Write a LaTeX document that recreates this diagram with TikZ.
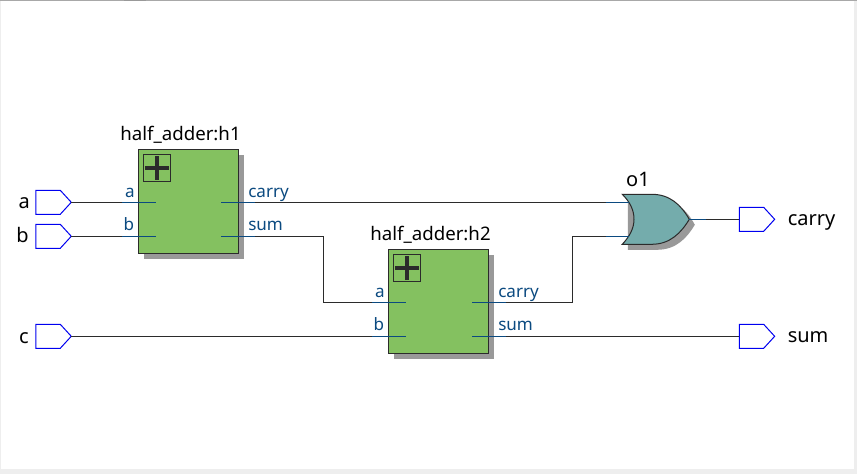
\documentclass[tikz,border=0pt]{standalone}
\usepackage{fontspec}
\setmainfont{Noto Sans}
\usetikzlibrary{shapes.symbols}
\definecolor{wire}{HTML}{2B2B2B}
\definecolor{pinblue}{HTML}{0B4A80}
\definecolor{blockgreen}{HTML}{84C160}
\definecolor{gateteal}{HTML}{74ACAC}
\definecolor{shadowgrey}{HTML}{999999}
\definecolor{portblue}{HTML}{0000F0}
\definecolor{framegrey}{HTML}{EEEEEE}
\tikzset{
  x=0.75pt,y=-0.75pt,
  wireline/.style={draw=wire,line width=0.75pt},
  pinline/.style={draw=pinblue,line width=0.75pt},
  blockbox/.style={draw=wire,fill=blockgreen,line width=0.9pt,minimum width=75pt,minimum height=78pt,inner sep=0pt,outer sep=0pt},
  blockshadow/.style={fill=shadowgrey,draw=none,minimum width=75pt,minimum height=78pt,inner sep=0pt,outer sep=0pt},
  plusbox/.style={draw=wire,line width=0.75pt,minimum width=20.3pt,minimum height=20.3pt,inner sep=0pt,outer sep=0pt},
  portshape/.style={signal,signal to=east,signal pointer angle=95,draw=portblue,fill=white,line width=0.75pt,minimum width=26.5pt,minimum height=18pt,inner sep=0pt,outer sep=0pt},
  biglabel/.style={text=black,font=\fontsize{14}{16}\selectfont,inner sep=0pt},
  portlabel/.style={text=black,font=\fontsize{15}{17}\selectfont,inner sep=0pt},
  pinlabel/.style={text=pinblue,font=\fontsize{12.8}{14}\selectfont,inner sep=0pt},
}
\newcommand{\plusmark}[1]{%
  \draw[wire,line width=3pt] ([xshift=-9pt]#1.center) -- ([xshift=9pt]#1.center);
  \draw[wire,line width=3pt] ([yshift=-9pt]#1.center) -- ([yshift=9pt]#1.center);
}
\begin{document}
\begin{tikzpicture}
\useasboundingbox (0,0) rectangle (857,474);
\fill[white] (0,0) rectangle (857,474);
% window frame
\fill[framegrey] (854.3,0) rectangle (857,474);
\fill[framegrey] (0,469) rectangle (857,474);
\fill[framegrey] (0,0) rectangle (1,469);
\fill[shadowgrey!85] (0,0) rectangle (857,1.5);
\fill[shadowgrey] (124,0) rectangle (146,1.5);
% wire end points
\coordinate (h1aL) at (122,202.3);
\coordinate (h1aR) at (156,202.3);
\coordinate (h1bL) at (122,236.3);
\coordinate (h1bR) at (156,236.3);
\coordinate (h1cL) at (221,202.3);
\coordinate (h1cR) at (255,202.3);
\coordinate (h1sL) at (221,236.3);
\coordinate (h1sR) at (255,236.3);
\coordinate (h2aL) at (372,302.3);
\coordinate (h2aR) at (406,302.3);
\coordinate (h2bL) at (372,336.3);
\coordinate (h2bR) at (406,336.3);
\coordinate (h2cL) at (472,302.3);
\coordinate (h2cR) at (506,302.3);
\coordinate (h2sL) at (472,336.3);
\coordinate (h2sR) at (506,336.3);
\coordinate (o1aL) at (605.7,202.3);
\coordinate (o1aR) at (628.5,202.3);
\coordinate (o1bL) at (605.7,236.3);
\coordinate (o1bR) at (628.5,236.3);
\coordinate (o1yL) at (689.3,219.3);
\coordinate (o1yR) at (705.7,219.3);
% shadows
\node[blockshadow] at (194.2,207) {};
\node[blockshadow] at (443.8,307) {};
\fill[shadowgrey] (627.8,199.8) -- (657.2,199.8) .. controls (676,199.8) and (687,210) .. (694.8,224.8)
  .. controls (687,238) and (676,249.8) .. (657.2,249.8) -- (627.8,249.8) -- cycle;
% blocks
\node[blockbox] (h1) at (188.7,201.4) {};
\node[blockbox] (h2) at (438.3,301.3) {};
\node[plusbox] (p1) at (157.1,168) {};
\node[plusbox] (p2) at (407,268) {};
\plusmark{p1}
\plusmark{p2}
% gate
\path[draw=wire,fill=gateteal,line width=0.75pt] (622.3,194.3) -- (651.7,194.3)
  .. controls (670,194.3) and (681,205) .. (689.3,219.3)
  .. controls (681,233) and (670,244.3) .. (651.7,244.3) -- (622.3,244.3)
  .. controls (630,236) and (634,228) .. (634,219.3)
  .. controls (634,210) and (630,202) .. cycle;
% ports
\node[portshape] (a) at (48.1,202.3) {};
\node[portshape] (b) at (48.1,236.3) {};
\node[portshape] (c) at (48.1,336.3) {};
\node[portshape] (carry) at (751.5,219.3) {};
\node[portshape] (sum) at (751.5,336.3) {};
% wires
\draw[wireline] (a.east) -- (h1aL);
\draw[wireline] (b.east) -- (h1bL);
\draw[wireline] (c.east) -- (h2bL);
\draw[wireline] (h1cR) -- (o1aL);
\draw[wireline] (h1sR) -- (323,236.3) -- (323,302.3) -- (h2aL);
\draw[wireline] (h2cR) -- (572,302.3) -- (572,236.3) -- (o1bL);
\draw[wireline] (h2sR) -- (sum.west);
\draw[wireline] (o1yR) -- (carry.west);
% pins
\foreach \l/\r in {h1aL/h1aR,h1bL/h1bR,h1cL/h1cR,h1sL/h1sR,h2aL/h2aR,h2bL/h2bR,h2cL/h2cR,h2sL/h2sR,o1aL/o1aR,o1bL/o1bR,o1yL/o1yR}
  \draw[pinline] (\l) -- (\r);
% labels
\node[biglabel,anchor=base] (l1) at (180.5,141) {half\_adder:h1};
\node[biglabel,anchor=base] (l2) at (430.5,241) {half\_adder:h2};
\node[portlabel,anchor=base] (l3) at (638,186.5) {o1};
\node[portlabel,anchor=base east] (la) at (30,209) {a};
\node[portlabel,anchor=base east] (lb) at (29,243) {b};
\node[portlabel,anchor=base east] (lc) at (29,343) {c};
\node[portlabel,anchor=base west] (lcarry) at (787.5,225) {carry};
\node[portlabel,anchor=base west] (lsum) at (787.5,342) {sum};
\node[pinlabel,anchor=base east] (t1) at (135,197.3) {a};
\node[pinlabel,anchor=base east] (t2) at (134.5,230.5) {b};
\node[pinlabel,anchor=base west] (t3) at (248,197.3) {carry};
\node[pinlabel,anchor=base west] (t4) at (248,230.5) {sum};
\node[pinlabel,anchor=base east] (t5) at (385,297.3) {a};
\node[pinlabel,anchor=base east] (t6) at (384.5,330.5) {b};
\node[pinlabel,anchor=base west] (t7) at (498,297.3) {carry};
\node[pinlabel,anchor=base west] (t8) at (498,330.5) {sum};
\end{tikzpicture}
\end{document}
